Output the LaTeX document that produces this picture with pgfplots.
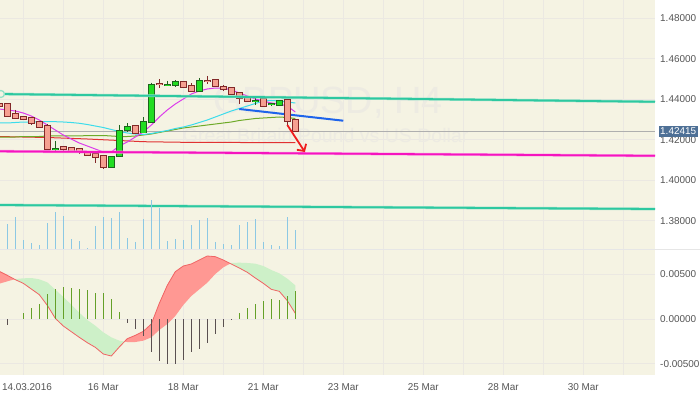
\documentclass[border=0pt]{standalone}
\usepackage{fontspec}
\setmainfont{Liberation Sans}
\usepackage{pgfplots}
\usepackage{pgfplotstable}
\pgfplotsset{compat=1.18}
\usepgfplotslibrary{fillbetween}
\usetikzlibrary{arrows.meta}

\definecolor{cream}{RGB}{245,243,227}
\definecolor{gridc}{RGB}{235,232,226}
\definecolor{tickc}{RGB}{85,85,85}
\definecolor{bullf}{RGB}{34,221,34}
\definecolor{bulld}{RGB}{30,100,30}
\definecolor{bearf}{RGB}{245,160,145}
\definecolor{beard}{RGB}{130,40,40}
\definecolor{tealc}{RGB}{45,200,160}
\definecolor{tealg}{RGB}{150,225,200}
\definecolor{magl}{RGB}{245,20,190}
\definecolor{magg}{RGB}{250,150,225}
\definecolor{bluel}{RGB}{30,100,235}
\definecolor{arrowc}{RGB}{240,30,30}
\definecolor{maMag}{RGB}{220,60,235}
\definecolor{maCyan}{RGB}{60,220,235}
\definecolor{maOlive}{RGB}{110,170,40}
\definecolor{maRed}{RGB}{225,50,50}
\definecolor{grayl}{RGB}{175,175,175}
\definecolor{volc}{RGB}{140,200,228}
\definecolor{histg}{RGB}{100,160,40}
\definecolor{histn}{RGB}{90,80,80}
\definecolor{macdRed}{RGB}{255,152,147}
\definecolor{macdGreen}{RGB}{205,240,200}
\definecolor{macdLine}{RGB}{240,100,100}
\definecolor{pricebox}{RGB}{78,112,150}
\definecolor{wmc}{RGB}{237,235,226}
\definecolor{sepc}{RGB}{230,230,230}

% i  magenta  cyan  olive
\pgfplotstableread{
i m c o
-1 1.43521 1.42830 1.42138
0 1.43472 1.42830 1.42138
1 1.43422 1.42854 1.42138
2 1.43323 1.42879 1.42163
3 1.43175 1.42879 1.42163
4 1.42978 1.42894 1.42163
5 1.42731 1.42894 1.42188
6 1.42484 1.42894 1.42188
7 1.42237 1.42879 1.42188
8 1.42040 1.42854 1.42188
9 1.41842 1.42815 1.42188
10 1.41694 1.42756 1.42212
11 1.41546 1.42681 1.42212
12 1.41398 1.42607 1.42212
13 1.41398 1.42509 1.42188
14 1.41694 1.42410 1.42163
15 1.41891 1.42336 1.42163
16 1.42138 1.42286 1.42188
17 1.42385 1.42262 1.42237
18 1.42731 1.42311 1.42286
19 1.43126 1.42385 1.42361
20 1.43472 1.42459 1.42435
21 1.43768 1.42558 1.42509
22 1.44015 1.42632 1.42583
23 1.44262 1.42731 1.42632
24 1.44410 1.42854 1.42681
25 1.44509 1.42978 1.42731
26 1.44558 1.43126 1.42780
27 1.44558 1.43274 1.42830
28 1.44459 1.43422 1.42879
29 1.44311 1.43546 1.42953
30 1.44163 1.43669 1.43002
31 1.44015 1.43793 1.43052
32 1.43916 1.43916 1.43077
33 1.43817 1.43941 1.43101
34 1.43768 1.43916 1.43126
35 1.43669 1.43867 1.43101
36 1.43373 1.43817 1.43052
}\ma

\pgfplotstableread{
i v
0 6250
1 8000
2 2250
3 1500
4 1000
5 6500
6 9250
7 8250
8 2500
9 2000
10 250
11 5750
12 8000
13 7750
14 9250
15 2750
16 1750
17 7500
18 12250
19 10250
20 2000
21 2500
22 2250
23 6000
24 7250
25 7750
26 1750
27 1250
28 1000
29 6000
30 6750
31 7500
32 1750
33 1000
34 750
35 8000
36 4750
}\vol

\pgfplotstableread{
i m s
-1 0.005332 0.003952
0 0.004884 0.004213
1 0.004400 0.004474
2 0.003990 0.004549
3 0.003356 0.004586
4 0.002722 0.004437
5 0.001529 0.004101
6 0.000075 0.003281
7 -0.000783 0.002461
8 -0.001417 0.001603
9 -0.002051 0.000708
10 -0.002647 -0.000112
11 -0.003169 -0.000746
12 -0.003915 -0.001491
13 -0.004139 -0.002051
14 -0.003132 -0.002424
15 -0.002200 -0.002573
16 -0.001827 -0.002573
17 -0.001380 -0.002424
18 -0.000559 -0.002051
19 0.001752 -0.001230
20 0.003766 -0.000559
21 0.005295 0.000336
22 0.005928 0.001566
23 0.006152 0.002573
24 0.006600 0.003318
25 0.007047 0.004064
26 0.006972 0.005034
27 0.006600 0.005779
28 0.006152 0.006264
29 0.005705 0.006301
30 0.005220 0.006264
31 0.004586 0.006190
32 0.003990 0.005928
33 0.003318 0.005481
34 0.003095 0.005108
35 0.002051 0.004512
36 0.000634 0.003766
}\macd

\pgfplotstableread{
i h
2 0.000634
3 0.001230
4 0.001715
5 0.002796
6 0.003318
7 0.003542
8 0.003505
9 0.003393
10 0.003207
11 0.002946
12 0.002908
13 0.002274
14 0.000820
29 0.000708
30 0.001268
31 0.001678
32 0.002051
33 0.002274
34 0.002125
35 0.002573
36 0.003169
}\histpos

\pgfplotstableread{
i h
0 -0.000634
15 -0.000410
16 -0.001081
17 -0.001864
18 -0.003654
19 -0.004661
20 -0.005071
21 -0.005071
22 -0.004549
23 -0.003729
24 -0.003318
25 -0.002647
26 -0.001678
27 -0.000895
28 -0.000112
}\histneg

% candle: #1 index, #2 open, #3 high, #4 low, #5 close, #6 border, #7 fill
\newcommand\candle[7]{%
  \addplot[#6, line width=0.9bp] coordinates {(#1,#3) (#1,#4)};
  \addplot[#6, line width=6.4bp, line cap=butt, shorten <=-0.9bp, shorten >=-0.9bp] coordinates {(#1,#2) (#1,#5)};
  \addplot[#7, line width=4.6bp, line cap=butt] coordinates {(#1,#2) (#1,#5)};
}
\newcommand\bull[5]{\candle{#1}{#2}{#3}{#4}{#5}{bulld}{bullf}}
\newcommand\bear[5]{\candle{#1}{#2}{#3}{#4}{#5}{beard}{bearf}}

\pgfplotsset{
  chart/.style={scale only axis, width=655bp, xmin=-0.9125, xmax=80.9625,
    axis line style={draw=none},
    xtick={2,7,...,77},
    grid=major, major grid style={gridc, line width=0.8bp},
    ytick pos=right, yticklabel pos=right,
    scaled y ticks=false,
    tick style={draw=none},
    ticklabel style={font=\fontsize{10}{12}\selectfont, text=tickc},
    yticklabel style={anchor=west, inner sep=0pt, xshift=5bp,
      /pgf/number format/fixed, /pgf/number format/fixed zerofill,
      /pgf/number format/precision=5, /pgf/number format/assume math mode=true},
    axis background/.style={fill=cream},
  }
}

\begin{document}
\begin{tikzpicture}

\begin{axis}[chart, at={(0,0)}, anchor=north west, height=249bp,
  ymin=1.366074, ymax=1.489037,
  ytick={1.38,1.40,1.42,1.44,1.46,1.48},
  xticklabels={}]
  % watermark
  \node[text=wmc, font=\fontsize{38}{40}\selectfont] at (axis cs:40.1,1.43817) {GBPUSD, H4};
  \node[text=wmc, font=\fontsize{19.6}{22}\selectfont] at (axis cs:39.8,1.42188) {Great Britain Pound vs US Dollar};
  % price line
  \addplot[grayl, line width=1bp] coordinates {(-0.9125,1.42415) (80.9625,1.42415)};
  % moving averages
  \addplot[maRed, line width=1bp] coordinates {(-1,1.42163) (0,1.42153) (5,1.42114) (10,1.42040) (14,1.41965) (17,1.41906) (22,1.41877) (36,1.41857)};
  \addplot[maOlive, line width=1bp] table[x=i,y=o] {\ma};
  \addplot[maCyan, line width=1bp] table[x=i,y=c] {\ma};
  \addplot[maMag, line width=1bp] table[x=i,y=m] {\ma};
  % blue trend line
  \addplot[bluel, line width=2bp] coordinates {(29,1.43521) (42,1.42943)};
  % candles
  \bear{-1}{1.43768}{1.43800}{1.43660}{1.43684}
  \bear{0}{1.43768}{1.43790}{1.43141}{1.43190}
  \bear{1}{1.43274}{1.43472}{1.43050}{1.43062}
  \bear{2}{1.43111}{1.43130}{1.43000}{1.43012}
  \bear{3}{1.43062}{1.43070}{1.42716}{1.42815}
  \bear{4}{1.42864}{1.42870}{1.42600}{1.42617}
  \bear{5}{1.42667}{1.42765}{1.41520}{1.41531}
  \bull{6}{1.41555}{1.41941}{1.41462}{1.41560}
  \bear{7}{1.41644}{1.41694}{1.41462}{1.41531}
  \bear{8}{1.41580}{1.41590}{1.41450}{1.41462}
  \bear{9}{1.41531}{1.41540}{1.41314}{1.41383}
  \bear{10}{1.41398}{1.41410}{1.41240}{1.41249}
  \bear{11}{1.41299}{1.41310}{1.40869}{1.41136}
  \bear{12}{1.41200}{1.41210}{1.40543}{1.40642}
  \bull{13}{1.40657}{1.41150}{1.40632}{1.41136}
  \bull{14}{1.41185}{1.42731}{1.41170}{1.42449}
  \bull{15}{1.42469}{1.42815}{1.42370}{1.42617}
  \bear{16}{1.42667}{1.42680}{1.42340}{1.42351}
  \bull{17}{1.42360}{1.43126}{1.42350}{1.42879}
  \bull{18}{1.42864}{1.44820}{1.42850}{1.44706}
  \bear{19}{1.44746}{1.44988}{1.44543}{1.44741}
  \bull{20}{1.44716}{1.44904}{1.44672}{1.44721}
  \bull{21}{1.44721}{1.44953}{1.44622}{1.44840}
  \bear{22}{1.44869}{1.44880}{1.44580}{1.44593}
  \bear{23}{1.44657}{1.44790}{1.44385}{1.44395}
  \bull{24}{1.44395}{1.45052}{1.44385}{1.44889}
  \bear{25}{1.44909}{1.45151}{1.44756}{1.44904}
  \bear{26}{1.44938}{1.44950}{1.44630}{1.44642}
  \bear{27}{1.44607}{1.44691}{1.44425}{1.44494}
  \bear{28}{1.44543}{1.44555}{1.44235}{1.44247}
  \bear{29}{1.44296}{1.44346}{1.43753}{1.44064}
  \bear{30}{1.44064}{1.44075}{1.43890}{1.43901}
  \bull{31}{1.43911}{1.44049}{1.43704}{1.43916}
  \bear{32}{1.44000}{1.44010}{1.43660}{1.43669}
  \bull{33}{1.43750}{1.43832}{1.43654}{1.43753}
  \bull{34}{1.43704}{1.43910}{1.43695}{1.43901}
  \bear{35}{1.43951}{1.43960}{1.42716}{1.42943}
  \bear{36}{1.42963}{1.42970}{1.42405}{1.42415}
  % horizontal / channel lines
  \addplot[tealg, line width=2.8bp] coordinates {(-0.9125,1.44262) (80.9625,1.43877)};
  \addplot[tealc, line width=1.8bp] coordinates {(-0.9125,1.44262) (80.9625,1.43877)};
  \addplot[tealg, line width=2.8bp] coordinates {(-0.9125,1.38780) (80.9625,1.38583)};
  \addplot[tealc, line width=1.8bp] coordinates {(-0.9125,1.38780) (80.9625,1.38583)};
  \addplot[magg, line width=2.8bp] coordinates {(-0.9125,1.41432) (80.9625,1.41210)};
  \addplot[magl, line width=1.8bp] coordinates {(-0.9125,1.41432) (80.9625,1.41210)};
  \addplot[only marks, mark=*, mark size=3.5bp, mark options={draw=tealg, fill=cream, line width=1.3bp}] coordinates {(-0.8,1.44262)};
  % arrow
  \addplot[arrowc, line width=1.8bp, -{Straight Barb[length=5bp, width=11bp]}] coordinates {(35,1.42731) (37.2,1.41398)};
  \coordinate (pl) at (axis cs:80.9625,1.42415);
\end{axis}

\begin{axis}[at={(0,0)}, anchor=north west, scale only axis, width=655bp, height=249bp,
  xmin=-0.9125, xmax=80.9625, ymin=0, ymax=62250, hide axis]
  \addplot[ycomb, volc, line width=1.2bp] table[x=i,y=v] {\vol};
\end{axis}

\begin{axis}[chart, at={(0,-249bp)}, anchor=north west, height=126bp,
  ymin=-0.006264, ymax=0.00783,
  ytick={-0.005,0,0.005},
  xticklabels={\makebox[0pt][l]{\hspace*{-21.3bp}14.03.2016},,16 Mar,,18 Mar,,21 Mar,,23 Mar,,25 Mar,,28 Mar,,30 Mar,},
  xticklabel style={yshift=-5bp}]
  \addplot[draw=none, name path=sig] table[x=i,y=s] {\macd};
  \addplot[macdLine, line width=0.8bp, name path=mn] table[x=i,y=m] {\macd};
  \addplot fill between[of=mn and sig, split,
     every even segment/.style={fill=macdRed},
     every odd segment/.style={fill=macdGreen}];
  \addplot[ycomb, histg, line width=1.3bp] table[x=i,y=h] {\histpos};
  \addplot[ycomb, histn, line width=1.3bp] table[x=i,y=h] {\histneg};
\end{axis}

\draw[sepc, line width=1bp] (0,-249bp) -- (700bp,-249bp);
\node[fill=pricebox, text=white, font=\fontsize{10}{12}\selectfont, inner sep=1.7bp, anchor=west] at ([xshift=3.3bp]pl) {1.42415};
\pgfresetboundingbox
\useasboundingbox (0,0) rectangle (700bp,-394bp);
\end{tikzpicture}
\end{document}
